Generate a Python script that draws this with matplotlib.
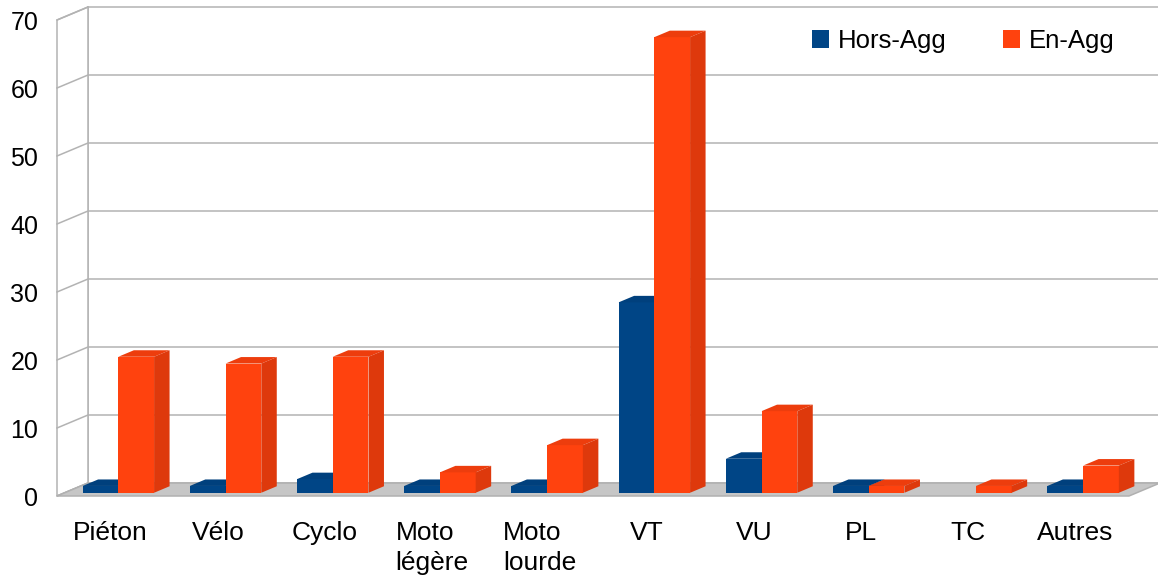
import numpy as np
import matplotlib.pyplot as plt
from matplotlib.patches import Polygon, Patch
from matplotlib.colors import to_rgb

# Data
categories = ['Piéton', 'Vélo', 'Cyclo', 'Moto\nlégère', 'Moto\nlourde',
              'VT', 'VU', 'PL', 'TC', 'Autres']
hors_agg = [1, 1, 2, 1, 1, 28, 5, 1, 0, 1]
en_agg = [20, 19, 20, 3, 7, 67, 12, 1, 1, 4]
series_names = ['Hors-Agg', 'En-Agg']
series_colors = ['#004586', '#ff420e']
y_ticks = [0, 10, 20, 30, 40, 50, 60, 70]

plt.rcParams['font.family'] = ['Liberation Sans', 'DejaVu Sans']

fig = plt.figure(figsize=(11.58, 5.81), dpi=100)
ax = fig.add_axes([57 / 1158, 85 / 581, 1072 / 1158, 476 / 581])
n = len(categories)
ax.set_xlim(0, n)
ax.set_ylim(0, 70)

# oblique depth of the chart box (in data units)
dx, dy = 0.289, 1.91
grid_c = '#b3b3b3'
lw = 1.1

# back wall
for v in y_ticks:
    ax.plot([dx, n + dx], [v + dy, v + dy], color=grid_c, lw=lw, clip_on=False, zorder=1)
ax.plot([dx, dx], [dy, 70 + dy], color=grid_c, lw=lw, clip_on=False, zorder=1)

# left wall
ax.add_patch(Polygon([(0, 0), (dx, dy), (dx, 70 + dy), (0, 70)], closed=True,
                     facecolor='white', edgecolor=grid_c, lw=lw, clip_on=False, zorder=2))
for v in y_ticks:
    ax.plot([0, dx], [v, v + dy], color=grid_c, lw=lw, clip_on=False, zorder=2)

# floor
ax.add_patch(Polygon([(0, 0), (n, 0), (n + dx, dy), (dx, dy)], closed=True,
                     facecolor='#c6c6c6', edgecolor='#b0b0b0', lw=lw, clip_on=False, zorder=3))

# bars
f0, f1 = 0.25, 0.75  # bar depth inside the box
bw = 1 / 3
x = np.arange(n) + 0.5
ox, oy = f0 * dx, f0 * dy
bx, by = (f1 - f0) * dx, (f1 - f0) * dy

def shade(c, k):
    r, g, b = to_rgb(c)
    return (r * k, g * k, b * k)

for i in range(n):
    for j, vals in enumerate([hors_agg, en_agg]):
        v = vals[i]
        if v <= 0:
            continue
        c = series_colors[j]
        x0 = x[i] - bw + j * bw + ox
        x1 = x0 + bw
        ax.bar(x0, v, width=bw, bottom=oy, align='edge', color=c,
               clip_on=False, zorder=4)
        top = v + oy
        ax.add_patch(Polygon([(x0, top), (x1, top), (x1 + bx, top + by), (x0 + bx, top + by)],
                             closed=True, facecolor=shade(c, 0.93), edgecolor='none',
                             clip_on=False, zorder=4))
        ax.add_patch(Polygon([(x1, oy), (x1 + bx, oy + by), (x1 + bx, top + by), (x1, top)],
                             closed=True, facecolor=shade(c, 0.87), edgecolor='none',
                             clip_on=False, zorder=4))

# axes labels
ax.set_yticks(y_ticks)
ax.set_yticklabels([str(t) for t in y_ticks], fontsize=18)
ax.set_xticks(x)
ax.set_xticklabels(categories, fontsize=19)
for lab in ax.get_xticklabels():
    lab.set_multialignment('left')
    lab.set_linespacing(1.3)
ax.tick_params(axis='y', length=0, pad=13.5)
ax.tick_params(axis='x', length=0, pad=18)
for s in ax.spines.values():
    s.set_visible(False)

handles = [Patch(facecolor=series_colors[0]), Patch(facecolor=series_colors[1])]
fig.legend(handles, series_names, loc='center left', bbox_to_anchor=(812 / 1158, 1 - 41 / 581),
           ncol=2, frameon=False, fontsize=18.5, handlelength=0.65, handleheight=0.65,
           handletextpad=0.35, columnspacing=2.2, borderpad=0, borderaxespad=0)

fig.savefig('out.png', dpi=100)
